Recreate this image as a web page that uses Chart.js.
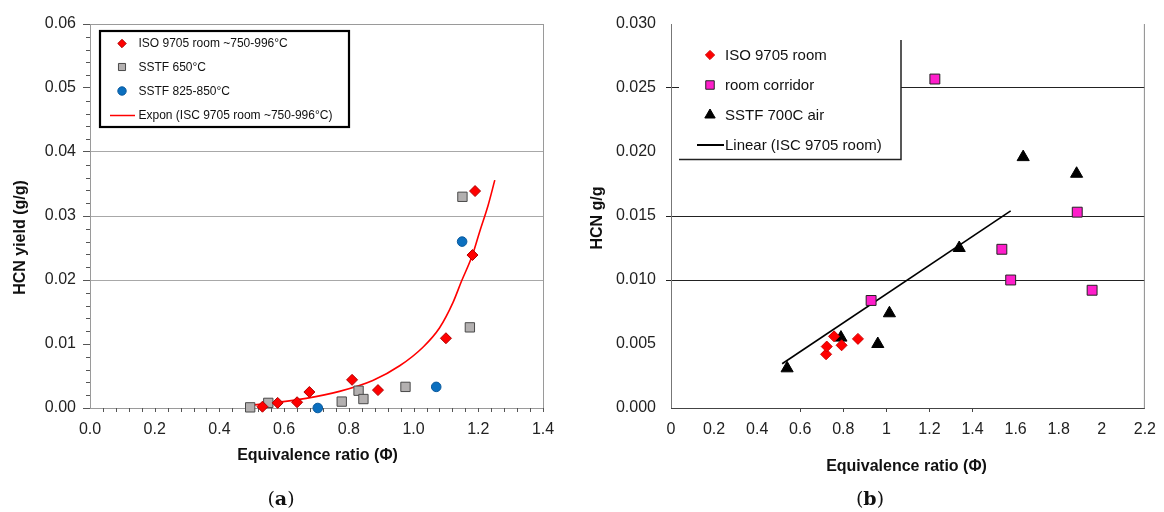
<!DOCTYPE html>
<html>
<head>
<meta charset="utf-8">
<script src="https://cdn.jsdelivr.net/npm/chart.js"></script>
<style>
  html, body { margin: 0; padding: 0; background: #fff; }
  #wrap { position: relative; width: 1164px; height: 512px; }
  #wrap canvas { position: absolute; left: 0; top: 0; }
</style>
</head>
<body>
<div id="wrap">
  <canvas id="chartA" width="1164" height="512"></canvas>
  <canvas id="chartB" width="1164" height="512"></canvas>
</div>
<script>
// ---- (a) HCN yield vs equivalence ratio ----
const isoRoomX = [0.533, 0.580, 0.640, 0.678, 0.810, 0.890, 1.100, 1.182, 1.190];
const isoRoomY = [0.0002, 0.0008, 0.0009, 0.0025, 0.0044, 0.0028, 0.0109, 0.0239, 0.0339];
const sstf650X = [0.495, 0.551, 0.778, 0.830, 0.845, 0.975, 1.151, 1.174];
const sstf650Y = [0.0001, 0.0008, 0.0010, 0.0027, 0.0014, 0.0033, 0.0330, 0.0126];
const sstf825X = [0.704, 1.070, 1.150];
const sstf825Y = [0.0000, 0.0033, 0.0260];
// exponential trendline
const exponX = [0.492, 0.564, 0.668, 0.771, 0.874, 0.957, 1.029, 1.080, 1.122, 1.148, 1.182, 1.204, 1.230, 1.251];
const exponY = [0.0004, 0.0008, 0.0015, 0.0026, 0.0043, 0.0066, 0.0095, 0.0125, 0.0165, 0.0198, 0.0239, 0.0275, 0.0316, 0.0356];
const xTicksA = [0, 0.2, 0.4, 0.6, 0.8, 1.0, 1.2, 1.4];
const yTicksA = [0, 0.01, 0.02, 0.03, 0.04, 0.05, 0.06];

// ---- (b) HCN g/g vs equivalence ratio ----
const isoRoomBX = [0.720, 0.723, 0.757, 0.792, 0.868];
const isoRoomBY = [0.0042, 0.0048, 0.0056, 0.0049, 0.0054];
const corridorX = [0.929, 1.225, 1.536, 1.577, 1.886, 1.955];
const corridorY = [0.0084, 0.0257, 0.0124, 0.0100, 0.0153, 0.0092];
const sstf700X = [0.539, 0.789, 0.960, 1.014, 1.338, 1.635, 1.883];
const sstf700Y = [0.0031, 0.0055, 0.0050, 0.0074, 0.0125, 0.0196, 0.0183];
// linear trendline end points
const linearX = [0.516, 1.577];
const linearY = [0.00346, 0.0154];
const xTicksB = [0, 0.2, 0.4, 0.6, 0.8, 1, 1.2, 1.4, 1.6, 1.8, 2, 2.2];
const yTicksB = [0, 0.005, 0.010, 0.015, 0.020, 0.025, 0.030];

const pts = (xs, ys) => xs.map((x, i) => ({ x: x, y: ys[i] }));
const near = (a, b) => Math.abs(a - b) < 1e-9;

Chart.defaults.font.family = "'Liberation Sans', Arial, sans-serif";
Chart.defaults.color = '#222';

function marker(ctx, ds, x, y, r) {
  ctx.save();
  ctx.fillStyle = ds.backgroundColor;
  ctx.strokeStyle = ds.borderColor;
  ctx.lineWidth = ds.borderWidth;
  Chart.helpers.drawPoint(ctx, { pointStyle: ds.pointStyle, radius: r, rotation: 0, borderWidth: ds.borderWidth }, x, y);
  ctx.restore();
}

function title(ctx, text, x, y, rot) {
  ctx.save();
  ctx.font = "bold 16px 'Liberation Sans', Arial, sans-serif";
  ctx.fillStyle = '#111';
  ctx.textAlign = 'center';
  ctx.textBaseline = 'middle';
  ctx.translate(x, y);
  if (rot) ctx.rotate(-Math.PI / 2);
  ctx.fillText(text, 0, 0);
  ctx.restore();
}

function panelLabel(ctx, letter, cx, cy) {
  ctx.save();
  ctx.textBaseline = 'middle';
  ctx.fillStyle = '#111';
  const reg = "19px 'DejaVu Serif', serif", bold = "bold 19px 'DejaVu Serif', serif";
  ctx.font = reg; const wp = ctx.measureText('(').width;
  ctx.font = bold; const wl = ctx.measureText(letter).width;
  let x = cx - (wp * 2 + wl) / 2;
  ctx.font = reg; ctx.fillText('(', x, cy); x += wp;
  ctx.font = bold; ctx.fillText(letter, x, cy); x += wl;
  ctx.font = reg; ctx.fillText(')', x, cy);
  ctx.restore();
}

const decorA = {
  id: 'decorA',
  beforeDatasetsDraw(chart) {
    const { ctx, chartArea: a, scales } = chart;
    ctx.save();
    ctx.strokeStyle = '#9a9a9a';
    ctx.lineWidth = 1;
    ctx.strokeRect(a.left + 0.5, a.top + 0.5, a.right - a.left, a.bottom - a.top);
    ctx.strokeStyle = '#555';
    ctx.beginPath();
    for (let i = 0; i <= 30; i++) {
      if (i % 5 === 0) continue;
      const py = Math.round(scales.y.getPixelForValue(i * 0.002)) + 0.5;
      ctx.moveTo(a.left - 4, py); ctx.lineTo(a.left, py);
    }
    for (let i = 1; i <= 35; i++) {
      const px = Math.round(scales.x.getPixelForValue(i * 0.04)) + 0.5;
      ctx.moveTo(px, a.bottom); ctx.lineTo(px, a.bottom + 4);
    }
    ctx.stroke();
    ctx.restore();
  },
  afterDatasetsDraw(chart) {
    const ctx = chart.ctx;
    const ds = chart.data.datasets;
    ctx.save();
    ctx.fillStyle = '#fff';
    ctx.fillRect(99, 30, 251, 98);
    ctx.strokeStyle = '#000';
    ctx.lineWidth = 2.2;
    ctx.strokeRect(100, 31, 249, 96);
    const rows = [43.5, 67, 91, 115.5];
    const sizes = [4.2, 5, 4.2];
    ctx.font = "12px 'Liberation Sans', Arial, sans-serif";
    ctx.textBaseline = 'middle';
    ds.forEach((d, i) => {
      if (d.showLine) {
        ctx.strokeStyle = d.borderColor; ctx.lineWidth = 1.5;
        ctx.beginPath(); ctx.moveTo(110, rows[i]); ctx.lineTo(135, rows[i]); ctx.stroke();
      } else {
        marker(ctx, d, 122, rows[i], sizes[i]);
      }
      ctx.fillStyle = '#111';
      ctx.fillText(d.label, 138.5, rows[i] + 0.5);
    });
    ctx.restore();
  },
  afterDraw(chart) {
    const ctx = chart.ctx;
    title(ctx, 'HCN yield (g/g)', 21, 237.5, true);
    title(ctx, 'Equivalence ratio (\u03A6)', 317.5, 456, false);
    panelLabel(ctx, 'a', 281, 500);
  }
};

const decorB = {
  id: 'decorB',
  beforeDatasetsDraw(chart) {
    const { ctx, chartArea: a } = chart;
    ctx.save();
    ctx.lineWidth = 1;
    ctx.strokeStyle = '#777';
    ctx.beginPath(); ctx.moveTo(a.left + 0.5, a.top); ctx.lineTo(a.left + 0.5, a.bottom); ctx.stroke();
    ctx.strokeStyle = '#8a8a8a';
    ctx.beginPath(); ctx.moveTo(a.right - 0.5, a.top); ctx.lineTo(a.right - 0.5, a.bottom); ctx.stroke();
    ctx.strokeStyle = '#444';
    ctx.beginPath(); ctx.moveTo(a.left, a.bottom + 0.5); ctx.lineTo(a.right, a.bottom + 0.5); ctx.stroke();
    ctx.restore();
  },
  afterDatasetsDraw(chart) {
    const ctx = chart.ctx;
    const ds = chart.data.datasets;
    ctx.save();
    ctx.fillStyle = '#fff';
    ctx.fillRect(679, 40, 222, 119);
    ctx.strokeStyle = '#222';
    ctx.lineWidth = 1.5;
    ctx.beginPath();
    ctx.moveTo(901, 40); ctx.lineTo(901, 159.5); ctx.lineTo(679, 159.5);
    ctx.stroke();
    const rows = [55, 85, 115, 145];
    const sizes = [4.6, 6, 6];
    ctx.font = "15px 'Liberation Sans', Arial, sans-serif";
    ctx.textBaseline = 'middle';
    ds.forEach((d, i) => {
      if (d.showLine) {
        ctx.strokeStyle = d.borderColor; ctx.lineWidth = 2;
        ctx.beginPath(); ctx.moveTo(697, rows[i]); ctx.lineTo(724, rows[i]); ctx.stroke();
      } else {
        marker(ctx, d, 710, rows[i], sizes[i]);
      }
      ctx.fillStyle = '#111';
      ctx.fillText(d.label, 725, rows[i] + 0.5);
    });
    ctx.restore();
  },
  afterDraw(chart) {
    const ctx = chart.ctx;
    title(ctx, 'HCN g/g', 598, 218, true);
    title(ctx, 'Equivalence ratio (\u03A6)', 906.5, 467, false);
    panelLabel(ctx, 'b', 870, 500);
  }
};

new Chart(document.getElementById('chartA'), {
  type: 'scatter',
  data: {
    datasets: [
      { label: 'ISO 9705 room ~750-996\u00B0C', data: pts(isoRoomX, isoRoomY), pointStyle: 'rectRot', pointRadius: 5.5,
        backgroundColor: '#ff0000', borderColor: '#b00000', borderWidth: 1, clip: false },
      { label: 'SSTF 650\u00B0C', data: pts(sstf650X, sstf650Y), pointStyle: 'rect', pointRadius: 6.6,
        backgroundColor: '#b3b0b0', borderColor: '#4a4a4a', borderWidth: 1, clip: false },
      { label: 'SSTF 825-850\u00B0C', data: pts(sstf825X, sstf825Y), pointStyle: 'circle', pointRadius: 4.8,
        backgroundColor: '#0b6fbf', borderColor: '#0a5a9e', borderWidth: 1, clip: false },
      { label: 'Expon (ISC 9705 room ~750-996\u00B0C)', data: pts(exponX, exponY), showLine: true, pointRadius: 0,
        borderColor: '#ff0000', borderWidth: 1.6, cubicInterpolationMode: 'monotone', fill: false, clip: false }
    ]
  },
  options: {
    responsive: false,
    animation: false,
    events: [],
    layout: { padding: { left: 0, top: 24, right: 621, bottom: 64 } },
    plugins: { legend: { display: false }, tooltip: { enabled: false } },
    scales: {
      x: {
        type: 'linear', min: 0, max: 1.4,
        afterBuildTicks: s => { s.ticks = xTicksA.map(v => ({ value: v })); },
        ticks: { callback: v => v.toFixed(1), font: { size: 16 }, padding: 12, maxRotation: 0, autoSkip: false },
        grid: { drawOnChartArea: false, drawTicks: false },
        border: { display: false },
        afterFit: s => { s.height = 40; }
      },
      y: {
        min: 0, max: 0.06,
        afterBuildTicks: s => { s.ticks = yTicksA.map(v => ({ value: v })); },
        ticks: { callback: v => v.toFixed(2), font: { size: 16 }, padding: 7 },
        grid: {
          color: c => (c.tick && [0.02, 0.03, 0.04].some(g => near(g, c.tick.value))) ? '#a8a8a8' : 'rgba(0,0,0,0)',
          tickColor: '#555', tickLength: 7, lineWidth: 1
        },
        border: { display: false },
        afterFit: s => { s.width = 90; }
      }
    }
  },
  plugins: [decorA]
});

new Chart(document.getElementById('chartB'), {
  type: 'scatter',
  data: {
    datasets: [
      { label: 'ISO 9705 room', data: pts(isoRoomBX, isoRoomBY), pointStyle: 'rectRot', pointRadius: 5.5,
        backgroundColor: '#ff0000', borderColor: '#d00000', borderWidth: 1, clip: false },
      { label: 'room corridor', data: pts(corridorX, corridorY), pointStyle: 'rect', pointRadius: 7,
        backgroundColor: '#ff1ecb', borderColor: '#222', borderWidth: 1, clip: false },
      { label: 'SSTF 700C air', data: pts(sstf700X, sstf700Y), pointStyle: 'triangle', pointRadius: 7,
        backgroundColor: '#000', borderColor: '#000', borderWidth: 1, clip: false },
      { label: 'Linear (ISC 9705 room)', data: pts(linearX, linearY), showLine: true, pointRadius: 0,
        borderColor: '#000', borderWidth: 1.6, fill: false, clip: false }
    ]
  },
  options: {
    responsive: false,
    animation: false,
    events: [],
    layout: { padding: { left: 582, top: 24, right: 14, bottom: 64 } },
    plugins: { legend: { display: false }, tooltip: { enabled: false } },
    scales: {
      x: {
        type: 'linear', min: 0, max: 2.2,
        afterBuildTicks: s => { s.ticks = xTicksB.map(v => ({ value: v })); },
        ticks: { callback: v => String(+v.toFixed(1)), font: { size: 16 }, padding: 8, maxRotation: 0, autoSkip: false },
        grid: {
          drawOnChartArea: false, drawTicks: true, tickLength: 4,
          tickColor: c => (c.tick && c.tick.value > 0.5 && c.tick.value < 1.5) ? '#444' : 'rgba(0,0,0,0)'
        },
        border: { display: false },
        afterFit: s => { s.height = 40; }
      },
      y: {
        min: 0, max: 0.03,
        afterBuildTicks: s => { s.ticks = yTicksB.map(v => ({ value: v })); },
        ticks: { callback: v => v.toFixed(3), font: { size: 16 }, padding: 10 },
        grid: {
          color: c => (c.tick && [0.010, 0.015, 0.025].some(g => near(g, c.tick.value))) ? '#222' : 'rgba(0,0,0,0)',
          tickColor: c => (c.tick && [0.010, 0.015, 0.025].some(g => near(g, c.tick.value))) ? '#222' : 'rgba(0,0,0,0)',
          tickLength: 5, lineWidth: 1
        },
        border: { display: false },
        afterFit: s => { s.width = 89; }
      }
    }
  },
  plugins: [decorB]
});
</script>
</body>
</html>
